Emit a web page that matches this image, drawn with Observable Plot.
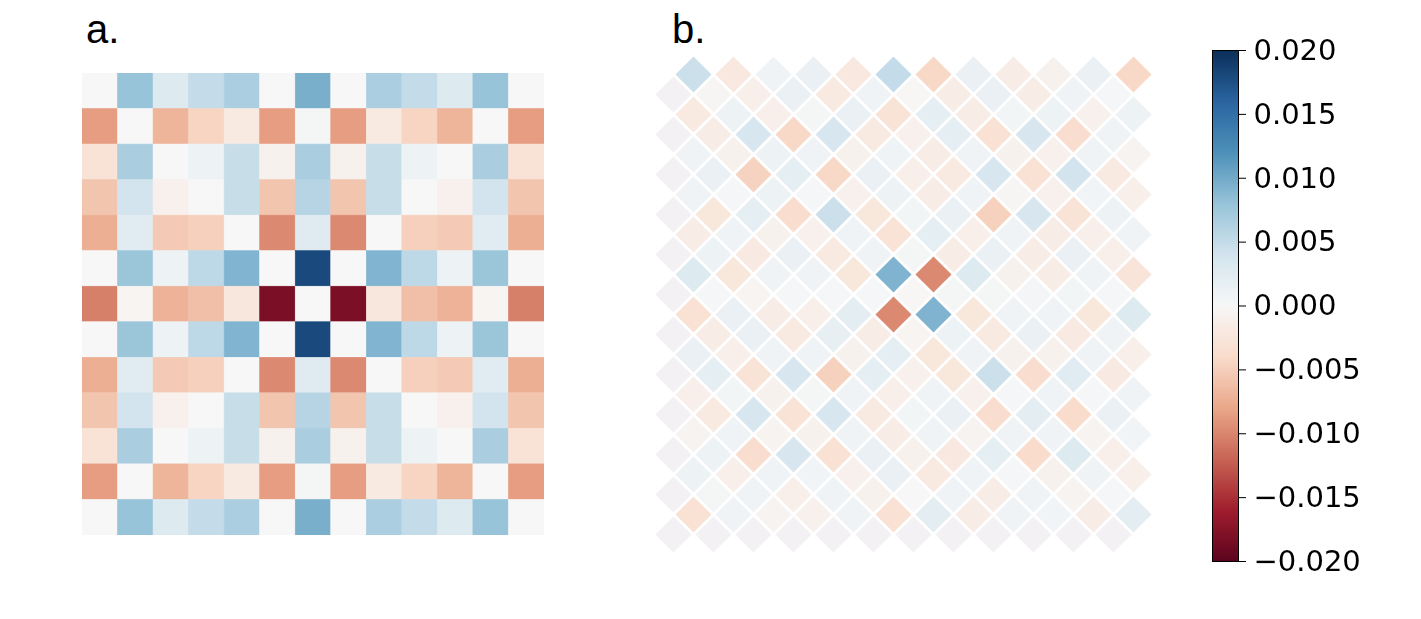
<!DOCTYPE html>
<html><head><meta charset="utf-8">
<script src="https://cdn.jsdelivr.net/npm/d3@7"></script>
<script src="https://cdn.jsdelivr.net/npm/@observablehq/plot@0.6"></script>
<style>
body{margin:0;background:#fff;}
#fig{position:relative;width:1421px;height:619px;overflow:hidden;background:#fff;}
.panel{position:absolute;}
.muted{filter:saturate(0.85);}
</style></head><body>
<div id="fig">
<svg class="panel" style="left:0;top:0" width="1421" height="60">
  <text x="86" y="43" font-family="Liberation Sans, Arial, sans-serif" font-size="40" fill="#000">a.</text>
  <text x="672" y="43" font-family="Liberation Sans, Arial, sans-serif" font-size="40" fill="#000">b.</text>
</svg>
<div id="pa" class="panel muted" style="left:82px;top:73px"></div>
<div id="pb" class="panel muted" style="left:652.7px;top:54px"></div>
<div id="cb" class="panel muted" style="left:1200px;top:30px"></div>
</div>
<script>
// ---- Panel a: 13 x 13 matrix (rows top to bottom) ----
const aRow0  = [0, 0.008, 0.003, 0.005, 0.0067, 0, 0.0096, 0, 0.0067, 0.005, 0.003, 0.008, 0];
const aRow1  = [-0.0086, 0, -0.007, -0.0045, -0.002, -0.0086, 0.0003, -0.0086, -0.002, -0.0045, -0.007, 0, -0.0086];
const aRow2  = [-0.003, 0.0068, 0, 0.0012, 0.0048, -0.0008, 0.0068, -0.0008, 0.0048, 0.0012, 0, 0.0068, -0.003];
const aRow3  = [-0.0057, 0.004, -0.001, 0, 0.0048, -0.0057, 0.006, -0.0057, 0.0048, 0, -0.001, 0.004, -0.0057];
const aRow4  = [-0.0074, 0.0025, -0.0053, -0.0049, 0, -0.0098, 0.0027, -0.0098, 0, -0.0049, -0.0053, 0.0025, -0.0074];
const aRow5  = [0, 0.0078, 0.0012, 0.0055, 0.0092, 0, 0.018, 0, 0.0092, 0.0055, 0.0012, 0.0078, 0];
const aRow6  = [-0.0104, -0.0005, -0.0072, -0.0062, -0.0023, -0.0182, 0, -0.0182, -0.0023, -0.0062, -0.0072, -0.0005, -0.0104];
const aRow7  = [0, 0.0078, 0.0012, 0.0055, 0.0092, 0, 0.018, 0, 0.0092, 0.0055, 0.0012, 0.0078, 0];
const aRow8  = [-0.0074, 0.0025, -0.0053, -0.0049, 0, -0.0098, 0.0027, -0.0098, 0, -0.0049, -0.0053, 0.0025, -0.0074];
const aRow9  = [-0.0057, 0.004, -0.001, 0, 0.0048, -0.0057, 0.006, -0.0057, 0.0048, 0, -0.001, 0.004, -0.0057];
const aRow10 = [-0.003, 0.0068, 0, 0.0012, 0.0048, -0.0008, 0.0068, -0.0008, 0.0048, 0.0012, 0, 0.0068, -0.003];
const aRow11 = [-0.0086, 0, -0.007, -0.0045, -0.002, -0.0086, 0.0003, -0.0086, -0.002, -0.0045, -0.007, 0, -0.0086];
const aRow12 = [0, 0.008, 0.003, 0.005, 0.0067, 0, 0.0096, 0, 0.0067, 0.005, 0.003, 0.008, 0];
const panelA = [aRow0,aRow1,aRow2,aRow3,aRow4,aRow5,aRow6,aRow7,aRow8,aRow9,aRow10,aRow11,aRow12];

// ---- Panel b: diamond lattice, 24 rows x 12 diamonds.
// even rows are shifted half a step right; null = masked (grey) diamond ----
const bRow0  = [0.0045, -0.0022, 0.0008, 0.0015, -0.0022, 0.005, -0.0042, 0.0015, -0.0015, -0.0008, 0.0015, -0.0042];
const bRow1  = [null, -0.0003, -0.0012, 0.0015, -0.002, 0.001, -0.0002, -0.0015, 0.0015, -0.0015, 0.001, 0.0002];
const bRow2  = [-0.002, 0.0012, -0.0012, 0.0003, 0.0015, -0.003, 0.002, -0.0015, 0.0005, 0.0012, -0.001, 0.0012];
const bRow3  = [null, -0.0015, 0.0035, -0.0042, 0.0035, -0.002, -0.001, 0.002, -0.0032, 0.0035, -0.0037, 0.001];
const bRow4  = [0.0008, -0.0008, 0.0012, 0.0008, -0.0008, 0.001, -0.0015, 0.0008, -0.0008, -0.001, 0.001, -0.0006];
const bRow5  = [null, 0.0015, -0.0047, 0.002, -0.0042, 0.0015, -0.0012, -0.002, 0.0035, -0.0032, 0.004, -0.002];
const bRow6  = [0.001, 0.0002, 0.0012, 0.0002, -0.001, 0.0012, -0.0015, 0.001, -0.0003, -0.001, 0.0006, -0.0012];
const bRow7  = [null, -0.0025, 0.002, -0.0037, 0.0045, -0.0025, 0.0005, 0.0015, -0.0048, 0.0035, -0.003, 0.0012];
const bRow8  = [-0.0015, 0.001, -0.0008, -0.001, 0.0008, -0.003, 0.002, -0.0012, 0.001, -0.0015, -0.0012, 0.001];
const bRow9  = [null, 0.0012, -0.0018, 0.0015, -0.002, 0.001, 0.0003, -0.0015, 0.0015, -0.0015, 0.0015, -0.0012];
const bRow10 = [0.003, -0.0025, 0.001, 0.0008, -0.0025, 0.0093, -0.0098, 0.003, -0.0008, -0.0015, 0.001, -0.0028];
const bRow11 = [null, 0.0002, -0.0005, 0.0002, 0.0002, 0.0002, -0.0002, 0.0003, 0.0003, 0.0004, 0.0005, 0.0002];
const bRow12 = [-0.0032, 0.0015, -0.0015, -0.0012, 0.0022, -0.0098, 0.0093, -0.0025, 0.001, 0.001, -0.0025, 0.003];
const bRow13 = [null, -0.0015, 0.0015, -0.002, 0.0018, -0.0015, -0.0005, 0.0012, -0.002, 0.0015, -0.0018, 0.001];
const bRow14 = [0.0015, -0.0012, 0.0008, 0.0008, -0.0008, 0.002, -0.0025, 0.0008, -0.0008, -0.0008, 0.0008, -0.0012];
const bRow15 = [null, 0.002, -0.003, 0.0035, -0.0048, 0.002, -0.001, -0.0025, 0.0045, -0.0037, 0.0025, -0.0018];
const bRow16 = [-0.0012, 0.0005, -0.0008, 0.0003, 0.0008, -0.0012, 0.001, -0.001, 0.0002, 0.0008, 0.0002, 0.0008];
const bRow17 = [null, -0.002, 0.0035, -0.003, 0.0035, -0.002, 0.0005, 0.0015, -0.0037, 0.0022, -0.004, 0.0015];
const bRow18 = [-0.0006, 0.001, -0.0006, -0.0008, 0.001, -0.0015, 0.001, -0.0006, 0.0008, 0.0008, -0.0006, 0.0006];
const bRow19 = [null, 0.0012, -0.0037, 0.0035, -0.0032, 0.0015, -0.0008, -0.0022, 0.002, -0.004, 0.003, -0.0012];
const bRow20 = [0.0012, -0.0012, 0.001, 0.0006, -0.001, 0.0015, -0.002, 0.001, 0.0002, -0.0008, 0.0008, -0.0012];
const bRow21 = [null, 0.0003, 0.0008, -0.0012, 0.001, -0.0008, 0, 0.0008, -0.0015, 0.001, -0.0006, 0.0002];
const bRow22 = [-0.0032, 0.001, -0.0006, -0.001, 0.001, -0.0032, 0.0022, -0.0015, 0.001, 0.0006, -0.0015, 0.0022];
const bRow23 = [null, null, null, null, null, null, null, null, null, null, null, null];
const panelB = [bRow0,bRow1,bRow2,bRow3,bRow4,bRow5,bRow6,bRow7,bRow8,bRow9,bRow10,bRow11,
                bRow12,bRow13,bRow14,bRow15,bRow16,bRow17,bRow18,bRow19,bRow20,bRow21,bRow22,bRow23];

// ---- Colorbar ----
const cbDomain = [-0.02, 0.02];
const cbTicks = [-0.02, -0.015, -0.01, -0.005, 0, 0.005, 0.01, 0.015, 0.02];

// RdBu (matplotlib, piecewise linear)
const RDBU = ["#67001f","#b2182b","#d6604d","#f4a582","#fddbc7","#f7f7f7","#d1e5f0","#92c5de","#4393c3","#2166ac","#053061"];
const rdbu = d3.piecewise(d3.interpolateRgb, RDBU);
const colorOpts = {type: "linear", domain: cbDomain, interpolate: rdbu, clamp: true};
const MASK = "#f3f1f3";

// tables
const cellsA = panelA.flatMap((row, r) => row.map((v, c) => ({row: r, col: c, v})));
const allB = panelB.flatMap((row, r) => row.map((v, k) => ({r, c: (r % 2 === 0 ? 2 * k + 1 : 2 * k), v})));
const cellsB = allB.filter(d => d.v !== null);
const maskB = allB.filter(d => d.v === null);

const pa = Plot.plot({
  width: 462, height: 462, margin: 0,
  x: {type: "band", domain: d3.range(13), padding: 0, round: false, axis: null},
  y: {type: "band", domain: d3.range(13), padding: 0, round: false, axis: null},
  color: colorOpts,
  style: {background: "transparent"},
  marks: [Plot.cell(cellsA, {x: "col", y: "row", fill: "v", stroke: "v", strokeWidth: 0.6, inset: 0})]
});
document.getElementById("pa").appendChild(pa);

const R = 14.4;
const pb = Plot.plot({
  width: 500, height: 500, margin: 0,
  x: {domain: [-1, 24], axis: null},
  y: {domain: [-1, 24], reverse: true, axis: null},
  color: colorOpts,
  style: {background: "transparent"},
  marks: [
    Plot.dot(maskB, {x: "c", y: "r", symbol: "square", r: R, rotate: 45, fill: MASK}),
    Plot.dot(cellsB, {x: "c", y: "r", symbol: "square", r: R, rotate: 45, fill: "v"})
  ]
});
document.getElementById("pb").appendChild(pb);

const cb = Plot.plot({
  width: 221, height: 550, marginTop: 20, marginBottom: 19, marginLeft: 12, marginRight: 183,
  x: {domain: [0, 1], axis: null},
  y: {domain: cbDomain, axis: null},
  color: colorOpts,
  style: {background: "transparent", fontFamily: "DejaVu Sans", fontSize: "29px", color: "#000", overflow: "visible"},
  marks: [
    Plot.raster({fill: (x, y) => y, x1: 0, x2: 1, y1: cbDomain[0], y2: cbDomain[1], width: 1, height: 511, imageRendering: "auto"}),
    Plot.frame({stroke: "#000", strokeWidth: 1}),
    Plot.axisY(cbTicks, {anchor: "right", tickFormat: d3.format(".3f"), tickSize: 7, tickPadding: 8, fontSize: 29, fill: "#000", stroke: "#000"})
  ]
});
document.getElementById("cb").appendChild(cb);
</script>
</body></html>
